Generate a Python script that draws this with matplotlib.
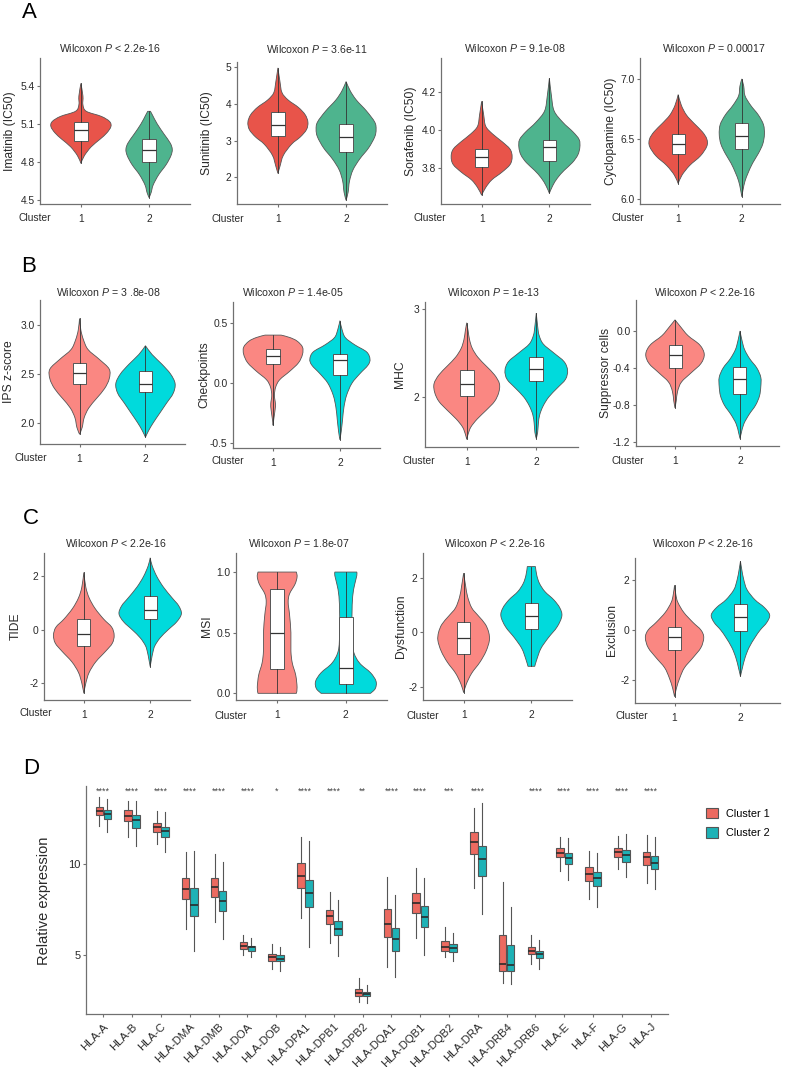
import numpy as np
import matplotlib
matplotlib.use("Agg")
import matplotlib.pyplot as plt
from matplotlib.path import Path
from matplotlib.patches import PathPatch, Patch

plt.rcParams['font.family'] = ['Liberation Sans', 'DejaVu Sans']
plt.rcParams['mathtext.fontset'] = 'custom'
plt.rcParams['mathtext.it'] = 'Liberation Sans:italic'
plt.rcParams['mathtext.rm'] = 'Liberation Sans'
plt.rcParams['axes.unicode_minus'] = False

# ---------------- DATA ----------------
clusters = ["1", "2"]

# Panel A  (violin profiles: y values and half-widths; box: q1, median, q3)
imatinib_c1_y = [4.79, 4.85, 4.92, 4.98, 5.03, 5.08, 5.12, 5.16, 5.20, 5.25, 5.32, 5.42]
imatinib_c1_w = [0, 0.05, 0.15, 0.28, 0.38, 0.44, 0.42, 0.30, 0.08, 0.03, 0.03, 0]
imatinib_c2_y = [4.52, 4.56, 4.62, 4.70, 4.78, 4.85, 4.90, 4.95, 5.02, 5.10, 5.17, 5.20]
imatinib_c2_w = [0, 0.03, 0.06, 0.14, 0.25, 0.32, 0.34, 0.31, 0.22, 0.12, 0.05, 0.02]
imatinib_box = [(4.97, 5.05, 5.115), (4.80, 4.895, 4.98)]

sunitinib_c1_y = [2.11, 2.3, 2.6, 2.9, 3.1, 3.3, 3.5, 3.7, 3.9, 4.1, 4.3, 4.6, 4.97]
sunitinib_c1_w = [0, 0.03, 0.08, 0.2, 0.33, 0.42, 0.44, 0.40, 0.3, 0.15, 0.06, 0.03, 0]
sunitinib_c2_y = [1.38, 1.6, 1.9, 2.2, 2.5, 2.8, 3.1, 3.3, 3.5, 3.8, 4.1, 4.35, 4.6]
sunitinib_c2_w = [0, 0.03, 0.05, 0.1, 0.2, 0.33, 0.42, 0.44, 0.42, 0.3, 0.15, 0.06, 0]
sunitinib_box = [(3.12, 3.43, 3.78), (2.68, 3.10, 3.45)]

sorafenib_c1_y = [3.66, 3.70, 3.74, 3.78, 3.82, 3.86, 3.90, 3.94, 3.98, 4.02, 4.08, 4.15]
sorafenib_c1_w = [0, 0.06, 0.15, 0.30, 0.42, 0.45, 0.42, 0.30, 0.16, 0.06, 0.03, 0]
sorafenib_c2_y = [3.67, 3.71, 3.75, 3.79, 3.83, 3.87, 3.91, 3.95, 3.99, 4.04, 4.10, 4.18, 4.27]
sorafenib_c2_w = [0, 0.05, 0.12, 0.22, 0.34, 0.42, 0.45, 0.44, 0.35, 0.20, 0.07, 0.03, 0]
sorafenib_box = [(3.805, 3.857, 3.902), (3.84, 3.91, 3.95)]

cyclopamine_c1_y = [6.13, 6.20, 6.28, 6.36, 6.44, 6.50, 6.56, 6.63, 6.70, 6.78, 6.87]
cyclopamine_c1_w = [0, 0.06, 0.18, 0.35, 0.45, 0.45, 0.38, 0.25, 0.13, 0.05, 0]
cyclopamine_c2_y = [6.02, 6.08, 6.15, 6.22, 6.30, 6.38, 6.46, 6.54, 6.62, 6.70, 6.78, 6.86, 6.94, 7.0]
cyclopamine_c2_w = [0, 0.02, 0.05, 0.10, 0.17, 0.26, 0.33, 0.355, 0.34, 0.26, 0.14, 0.05, 0.03, 0]
cyclopamine_box = [(6.378, 6.461, 6.544), (6.42, 6.527, 6.63)]

# Panel B
ips_c1_y = [1.88, 1.95, 2.05, 2.15, 2.25, 2.35, 2.45, 2.55, 2.65, 2.75, 2.85, 2.95, 3.07]
ips_c1_w = [0, 0.04, 0.07, 0.14, 0.26, 0.38, 0.45, 0.45, 0.30, 0.13, 0.06, 0.02, 0]
ips_c2_y = [1.85, 1.92, 2.0, 2.1, 2.2, 2.3, 2.4, 2.5, 2.6, 2.7, 2.79]
ips_c2_w = [0, 0.05, 0.12, 0.22, 0.32, 0.42, 0.45, 0.38, 0.25, 0.10, 0]
ips_box = [(2.395, 2.513, 2.616), (2.31, 2.40, 2.53)]

checkpoints_c1_y = [-0.35, -0.30, -0.22, -0.17, -0.10, -0.03, 0.03, 0.10, 0.17, 0.24, 0.30, 0.35, 0.38, 0.40]
checkpoints_c1_w = [0, 0.01, 0.03, 0.035, 0.02, 0.04, 0.10, 0.25, 0.38, 0.44, 0.44, 0.36, 0.25, 0.12]
checkpoints_c2_y = [-0.47, -0.40, -0.30, -0.20, -0.10, 0.0, 0.08, 0.15, 0.20, 0.26, 0.32, 0.38, 0.45, 0.52]
checkpoints_c2_w = [0, 0.02, 0.04, 0.06, 0.10, 0.18, 0.30, 0.42, 0.45, 0.40, 0.22, 0.08, 0.03, 0]
checkpoints_box = [(0.16, 0.23, 0.283), (0.072, 0.19, 0.24)]

mhc_c1_y = [1.52, 1.58, 1.66, 1.75, 1.85, 1.95, 2.05, 2.15, 2.25, 2.35, 2.45, 2.55, 2.65, 2.75, 2.84]
mhc_c1_w = [0, 0.02, 0.06, 0.15, 0.28, 0.40, 0.46, 0.47, 0.40, 0.28, 0.16, 0.08, 0.04, 0.02, 0]
mhc_c2_y = [1.53, 1.6, 1.7, 1.8, 1.9, 2.0, 2.1, 2.2, 2.3, 2.4, 2.5, 2.6, 2.7, 2.8, 2.95]
mhc_c2_w = [0, 0.02, 0.03, 0.05, 0.10, 0.18, 0.30, 0.42, 0.45, 0.40, 0.25, 0.10, 0.04, 0.02, 0]
mhc_box = [(2.01, 2.15, 2.31), (2.18, 2.32, 2.45)]

suppressor_c1_y = [-0.83, -0.75, -0.65, -0.55, -0.45, -0.35, -0.25, -0.15, -0.05, 0.05, 0.12]
suppressor_c1_w = [0, 0.02, 0.04, 0.10, 0.25, 0.40, 0.45, 0.38, 0.20, 0.08, 0]
suppressor_c2_y = [-1.16, -1.1, -1.0, -0.9, -0.8, -0.7, -0.6, -0.5, -0.4, -0.3, -0.2, -0.1, 0.0]
suppressor_c2_w = [0, 0.02, 0.06, 0.14, 0.24, 0.30, 0.32, 0.32, 0.26, 0.15, 0.07, 0.03, 0]
suppressor_box = [(-0.396, -0.259, -0.154), (-0.682, -0.52, -0.385)]

# Panel C
tide_c1_y = [-2.38, -2.0, -1.6, -1.2, -0.8, -0.5, -0.2, 0.1, 0.4, 0.8, 1.2, 1.6, 2.15]
tide_c1_w = [0, 0.03, 0.08, 0.18, 0.33, 0.43, 0.457, 0.42, 0.30, 0.17, 0.08, 0.03, 0]
tide_c2_y = [-1.38, -1.1, -0.85, -0.6, -0.3, 0.0, 0.3, 0.6, 0.9, 1.2, 1.6, 2.0, 2.4, 2.7]
tide_c2_w = [0, 0.02, 0.04, 0.07, 0.15, 0.27, 0.40, 0.47, 0.43, 0.33, 0.20, 0.10, 0.03, 0]
tide_box = [(-0.60, -0.16, 0.40), (0.40, 0.725, 1.275)]

msi_c1_y = [0.0, 0.05, 0.15, 0.25, 0.35, 0.5, 0.65, 0.75, 0.82, 0.9, 0.96, 1.0]
msi_c1_w = [0.28, 0.29, 0.27, 0.22, 0.20, 0.20, 0.18, 0.16, 0.18, 0.26, 0.29, 0.28]
msi_c2_y = [0.0, 0.04, 0.10, 0.17, 0.25, 0.35, 0.5, 0.65, 0.8, 0.9, 0.97, 1.0]
msi_c2_w = [0.36, 0.43, 0.44, 0.36, 0.20, 0.11, 0.09, 0.09, 0.10, 0.13, 0.16, 0.16]
msi_box = [(0.20, 0.494, 0.859), (0.077, 0.207, 0.627)]

dysfunction_c1_y = [-2.22, -1.9, -1.5, -1.1, -0.7, -0.3, 0.0, 0.3, 0.6, 0.9, 1.3, 1.7, 2.18]
dysfunction_c1_w = [0, 0.04, 0.12, 0.24, 0.33, 0.38, 0.37, 0.32, 0.22, 0.12, 0.06, 0.03, 0]
dysfunction_c2_y = [-1.25, -1.0, -0.6, -0.2, 0.2, 0.6, 0.9, 1.2, 1.5, 1.8, 2.1, 2.42]
dysfunction_c2_w = [0.05, 0.08, 0.14, 0.25, 0.38, 0.45, 0.42, 0.33, 0.20, 0.12, 0.08, 0.06]
dysfunction_box = [(-0.80, -0.21, 0.37), (0.14, 0.59, 1.08)]

exclusion_c1_y = [-2.65, -2.3, -1.9, -1.5, -1.1, -0.7, -0.3, 0.0, 0.3, 0.7, 1.1, 1.4, 1.78]
exclusion_c1_w = [0, 0.03, 0.08, 0.15, 0.28, 0.40, 0.443, 0.40, 0.28, 0.14, 0.05, 0.02, 0]
exclusion_c2_y = [-1.84, -1.5, -1.1, -0.7, -0.3, 0.0, 0.3, 0.6, 0.9, 1.2, 1.6, 2.0, 2.4, 2.73]
exclusion_c2_w = [0, 0.03, 0.07, 0.13, 0.22, 0.30, 0.40, 0.443, 0.36, 0.22, 0.10, 0.05, 0.02, 0]
exclusion_box = [(-0.79, -0.29, 0.13), (-0.03, 0.53, 1.03)]

# Panel D
hla_genes = ["HLA-A", "HLA-B", "HLA-C", "HLA-DMA", "HLA-DMB", "HLA-DOA", "HLA-DOB",
             "HLA-DPA1", "HLA-DPB1", "HLA-DPB2", "HLA-DQA1", "HLA-DQB1", "HLA-DQB2",
             "HLA-DRA", "HLA-DRB4", "HLA-DRB6", "HLA-E", "HLA-F", "HLA-G", "HLA-J"]
sig_labels = ["****", "****", "****", "****", "****", "****", "*", "****", "****", "**",
              "****", "****", "***", "****", "", "****", "****", "****", "****", "****"]
c1_low = [12.12, 11.52, 11.12, 6.45, 6.81, 4.98, 4.25, 7.03, 5.66, 2.42,
          4.34, 5.93, 4.87, 8.68, 3.49, 4.52, 9.65, 8.09, 9.74, 8.96]
c1_q1 = [12.71, 12.36, 11.79, 8.08, 8.22, 5.33, 4.69, 8.68, 6.72, 2.73,
         5.99, 7.31, 5.25, 10.55, 4.10, 5.05, 10.38, 9.08, 10.42, 9.96]
c1_med = [12.95, 12.67, 12.05, 8.64, 8.74, 5.51, 4.87, 9.37, 7.16, 2.91,
          6.70, 7.86, 5.47, 11.21, 4.52, 5.24, 10.60, 9.45, 10.69, 10.42]
c1_q3 = [13.13, 12.98, 12.25, 9.23, 9.23, 5.71, 5.05, 10.05, 7.49, 3.15,
         7.53, 8.41, 5.80, 11.79, 6.12, 5.47, 10.88, 9.84, 10.91, 10.69]
c1_high = [13.71, 13.46, 12.91, 10.69, 10.58, 6.12, 5.62, 11.52, 8.49, 3.74,
           9.32, 9.78, 6.54, 13.08, 9.01, 6.08, 11.52, 10.73, 11.55, 11.61]
c2_low = [11.77, 11.00, 10.66, 5.25, 5.88, 4.89, 4.15, 5.47, 4.96, 2.36,
          3.79, 4.98, 4.65, 7.25, 3.42, 4.23, 9.14, 7.67, 9.29, 8.63]
c2_q1 = [12.49, 12.01, 11.50, 7.16, 7.40, 5.22, 4.65, 7.67, 6.08, 2.73,
         5.24, 6.52, 5.18, 9.37, 4.10, 4.84, 10.02, 8.82, 10.14, 9.73]
c2_med = [12.76, 12.43, 11.81, 7.75, 7.95, 5.42, 4.80, 8.44, 6.45, 2.86,
          5.90, 7.09, 5.38, 10.29, 4.47, 5.05, 10.33, 9.26, 10.51, 10.09]
c2_q3 = [12.98, 12.73, 12.07, 8.68, 8.53, 5.51, 4.98, 9.14, 6.85, 2.97,
         6.48, 7.71, 5.62, 11.00, 5.57, 5.24, 10.64, 9.59, 10.79, 10.46]
c2_high = [13.59, 13.46, 12.86, 10.75, 10.14, 5.93, 5.44, 11.28, 8.04, 3.37,
           8.31, 9.23, 6.24, 13.35, 7.64, 5.84, 11.43, 10.64, 11.66, 11.52]

# ---------------- STYLE / LAYOUT ----------------
W, H = 790, 1067
A_COLORS = ("#E8544A", "#4EB48E")
BC_COLORS = ("#FA8782", "#00DADC")
D_COLORS = ("#EC6A60", "#1EB2B6")
AXIS_COL = "#707070"
TXT_COL = "#2a2a2a"

fig = plt.figure(figsize=(W / 100, H / 100), dpi=100)


def px_axes(l, t, r, b):
    return fig.add_axes([l / W, 1 - b / H, (r - l) / W, (b - t) / H])


def ftext(x, y, s, **kw):
    fig.text(x / W, 1 - y / H, s, **kw)


def cr_bezier(pts):
    pts = np.asarray(pts, float)
    n = len(pts)
    out = []
    for i in range(n - 1):
        p0 = pts[i - 1] if i > 0 else pts[i]
        p1, p2 = pts[i], pts[i + 1]
        p3 = pts[i + 2] if i + 2 < n else pts[i + 1]
        out += [p1 + (p2 - p0) / 6.0, p2 - (p3 - p1) / 6.0, p2]
    return out


def draw_violin(ax, c, ys, ws, color):
    right = [(c + w, y) for y, w in zip(ys, ws)]
    left = [(c - w, y) for y, w in zip(ys[::-1], ws[::-1])]
    verts = [right[0]]
    codes = [Path.MOVETO]
    v = cr_bezier(right)
    verts += v
    codes += [Path.CURVE4] * len(v)
    verts.append(left[0])
    codes.append(Path.LINETO)
    v = cr_bezier(left)
    verts += v
    codes += [Path.CURVE4] * len(v)
    verts.append(right[0])
    codes.append(Path.CLOSEPOLY)
    ax.add_patch(PathPatch(Path(verts, codes), facecolor=color,
                           edgecolor="#555555", lw=0.6, zorder=2))


def style_axes(ax):
    for s in ("top", "right"):
        ax.spines[s].set_visible(False)
    for s in ("left", "bottom"):
        ax.spines[s].set_color(AXIS_COL)
        ax.spines[s].set_linewidth(0.9)
    ax.tick_params(colors=AXIS_COL, length=2.5, width=0.8, labelcolor=TXT_COL,
                   labelsize=7.4, pad=1.5)
    ax.tick_params(axis="x", pad=4.5)


violin_panels = [
    dict(prof=[(imatinib_c1_y, imatinib_c1_w), (imatinib_c2_y, imatinib_c2_w)], box=imatinib_box,
         rect=(40, 58, 190, 204), ylim=(4.47, 5.62), yt=[4.5, 4.8, 5.1, 5.4],
         ytl=["4.5", "4.8", "5.1", "5.4"], ylabel="Imatinib (IC50)", ylx=10,
         title="Wilcoxon $P$ < 2.2e-16", txy=(109.7, 48), cxy=(34.5, 218), col=A_COLORS),
    dict(prof=[(sunitinib_c1_y, sunitinib_c1_w), (sunitinib_c2_y, sunitinib_c2_w)], box=sunitinib_box,
         rect=(237, 62, 387, 204), ylim=(1.28, 5.13), yt=[2, 3, 4, 5],
         ytl=["2", "3", "4", "5"], ylabel="Sunitinib (IC50)", ylx=206.7,
         title="Wilcoxon $P$ = 3.6e-11", txy=(317.2, 49), cxy=(227.5, 219), col=A_COLORS),
    dict(prof=[(sorafenib_c1_y, sorafenib_c1_w), (sorafenib_c2_y, sorafenib_c2_w)], box=sorafenib_box,
         rect=(441, 58, 590, 204), ylim=(3.614, 4.376), yt=[3.8, 4.0, 4.2],
         ytl=["3.8", "4.0", "4.2"], ylabel="Sorafenib (IC50)", ylx=411.3,
         title="Wilcoxon $P$ = 9.1e-08", txy=(515, 48), cxy=(429.7, 218), col=A_COLORS),
    dict(prof=[(cyclopamine_c1_y, cyclopamine_c1_w), (cyclopamine_c2_y, cyclopamine_c2_w)], box=cyclopamine_box,
         rect=(640, 58, 780, 204), ylim=(5.96, 7.174), yt=[6.0, 6.5, 7.0],
         ytl=["6.0", "6.5", "7.0"], ylabel="Cyclopamine (IC50)", ylx=611,
         title="Wilcoxon $P$ = 0.00017", txy=(713.5, 48), cxy=(627.5, 218), col=A_COLORS),
    dict(prof=[(ips_c1_y, ips_c1_w), (ips_c2_y, ips_c2_w)], box=ips_box,
         rect=(40, 300, 185, 444), ylim=(1.78, 3.26), yt=[2.0, 2.5, 3.0],
         ytl=["2.0", "2.5", "3.0"], ylabel="IPS z-score", ylx=9,
         title="Wilcoxon $P$ = 3 .8e-08", txy=(108.3, 291.7), cxy=(30.8, 457.7), col=BC_COLORS),
    dict(prof=[(checkpoints_c1_y, checkpoints_c1_w), (checkpoints_c2_y, checkpoints_c2_w)], box=checkpoints_box,
         rect=(233, 302, 380, 448), ylim=(-0.538, 0.675), yt=[-0.5, 0.0, 0.5],
         ytl=["-0.5", "0.0", "0.5"], ylabel="Checkpoints", ylx=204.3,
         title="Wilcoxon $P$ = 1.4e-05", txy=(293.3, 291.7), cxy=(227.5, 461), col=BC_COLORS),
    dict(prof=[(mhc_c1_y, mhc_c1_w), (mhc_c2_y, mhc_c2_w)], box=mhc_box,
         rect=(425, 302, 578, 447), ylim=(1.434, 3.075), yt=[2, 3],
         ytl=["2", "3"], ylabel="MHC", ylx=400,
         title="Wilcoxon $P$ = 1e-13", txy=(493.7, 291.7), cxy=(419, 461), col=BC_COLORS),
    dict(prof=[(suppressor_c1_y, suppressor_c1_w), (suppressor_c2_y, suppressor_c2_w)], box=suppressor_box,
         rect=(636, 300, 779, 446), ylim=(-1.24, 0.334), yt=[-1.2, -0.8, -0.4, 0.0],
         ytl=["-1.2", "-0.8", "-0.4", "0.0"], ylabel="Suppressor cells", ylx=606,
         title="Wilcoxon $P$ < 2.2e-16", txy=(705, 291.7), cxy=(628, 461), col=BC_COLORS),
    dict(prof=[(tide_c1_y, tide_c1_w), (tide_c2_y, tide_c2_w)], box=tide_box,
         rect=(44, 553, 190, 700), ylim=(-2.63, 2.88), yt=[-2, 0, 2],
         ytl=["-2", "0", "2"], ylabel="TIDE", ylx=15.3,
         title="Wilcoxon $P$ < 2.2e-16", txy=(115.7, 542.7), cxy=(35.5, 713.3), col=BC_COLORS),
    dict(prof=[(msi_c1_y, msi_c1_w), (msi_c2_y, msi_c2_w)], box=msi_box,
         rect=(236, 553, 387, 700), ylim=(-0.055, 1.157), yt=[0.0, 0.5, 1.0],
         ytl=["0.0", "0.5", "1.0"], ylabel="MSI", ylx=206.7,
         title="Wilcoxon $P$ = 1.8e-07", txy=(298.7, 542.7), cxy=(231, 716), col=BC_COLORS),
    dict(prof=[(dysfunction_c1_y, dysfunction_c1_w), (dysfunction_c2_y, dysfunction_c2_w)], box=dysfunction_box,
         rect=(423, 553, 572, 700), ylim=(-2.49, 2.92), yt=[-2, 0, 2],
         ytl=["-2", "0", "2"], ylabel="Dysfunction", ylx=401.3,
         title="Wilcoxon $P$ < 2.2e-16", txy=(495, 542.7), cxy=(423, 716), col=BC_COLORS),
    dict(prof=[(exclusion_c1_y, exclusion_c1_w), (exclusion_c2_y, exclusion_c2_w)], box=exclusion_box,
         rect=(635, 558, 780, 703), ylim=(-2.9, 2.86), yt=[-2, 0, 2],
         ytl=["-2", "0", "2"], ylabel="Exclusion", ylx=612.5,
         title="Wilcoxon $P$ < 2.2e-16", txy=(702.7, 542.7), cxy=(632, 716), col=BC_COLORS),
]

for p in violin_panels:
    ax = px_axes(*p["rect"])
    style_axes(ax)
    for k in range(2):
        ys, ws = p["prof"][k]
        c = k + 1
        draw_violin(ax, c, list(ys), list(ws), p["col"][k])
        q1, med, q3 = p["box"][k]
        ax.bxp([dict(whislo=ys[0], q1=q1, med=med, q3=q3, whishi=ys[-1], fliers=[])],
               positions=[c], widths=0.2, patch_artist=True, showcaps=False,
               showfliers=False, manage_ticks=False,
               boxprops=dict(facecolor="white", edgecolor="#555555", lw=0.7),
               medianprops=dict(color="#333333", lw=0.9),
               whiskerprops=dict(color="#333333", lw=0.6), zorder=3)
    ax.set_xlim(0.4, 2.6)
    ax.set_ylim(*p["ylim"])
    ax.set_xticks([1, 2])
    ax.set_xticklabels(clusters)
    ax.set_yticks(p["yt"])
    ax.set_yticklabels(p["ytl"])
    r = p["rect"]
    ftext(p["ylx"], (r[1] + r[3]) / 2, p["ylabel"], rotation=90, ha="center",
          va="center", fontsize=8.7, color=TXT_COL)
    ftext(p["txy"][0], p["txy"][1], p["title"], ha="center", va="center",
          fontsize=7.6, color=TXT_COL)
    ftext(p["cxy"][0], p["cxy"][1], "Cluster", ha="center", va="center",
          fontsize=7.4, color=TXT_COL)

# Panel letters
for lab, (x, y) in zip("ABCD", [(29.5, 12), (29, 266.5), (31, 518.5), (31, 768)]):
    ftext(x, y, lab, ha="center", va="center", fontsize=16, color="black")

# ---------------- Panel D ----------------
axd = px_axes(86, 786, 668, 1014)
style_axes(axd)
pos = np.arange(len(hla_genes))
for k, (lo, q1s, meds, q3s, hi) in enumerate([(c1_low, c1_q1, c1_med, c1_q3, c1_high),
                                              (c2_low, c2_q1, c2_med, c2_q3, c2_high)]):
    stats = [dict(whislo=lo[i], q1=q1s[i], med=meds[i], q3=q3s[i], whishi=hi[i], fliers=[])
             for i in range(len(hla_genes))]
    off = -0.14 if k == 0 else 0.14
    axd.bxp(stats, positions=pos + off, widths=0.26, patch_artist=True, showcaps=False,
            showfliers=False, manage_ticks=False,
            boxprops=dict(facecolor=D_COLORS[k], edgecolor="#555555", lw=0.8),
            medianprops=dict(color="#2b2b2b", lw=1.2),
            whiskerprops=dict(color="#555555", lw=0.8))
for i, s in enumerate(sig_labels):
    if s:
        axd.text(i, 13.99, s, ha="center", va="center", fontsize=6.5, color="#444444")
axd.set_xlim(-0.6, len(hla_genes) - 0.4)
axd.set_ylim(1.76, 14.3)
axd.set_yticks([5, 10])
axd.set_yticklabels(["5", "10"])
axd.set_xticks(pos)
axd.set_xticklabels(hla_genes, rotation=45, ha="right", va="top", rotation_mode="anchor")
axd.tick_params(axis="x", pad=3, labelsize=8.2)
axd.tick_params(axis="y", labelsize=8)
ftext(44, 901, "Relative expression", rotation=90, ha="center", va="center",
      fontsize=10.5, color=TXT_COL)
handles = [Patch(facecolor=D_COLORS[0], edgecolor="#555555", lw=0.8),
           Patch(facecolor=D_COLORS[1], edgecolor="#555555", lw=0.8)]
fig.legend(handles, ["Cluster 1", "Cluster 2"], loc="center left",
           bbox_to_anchor=(706 / W, 1 - 823 / H), frameon=False, fontsize=7.8,
           handlelength=1.1, handleheight=1.1, handletextpad=0.7, labelspacing=0.8,
           borderpad=0, borderaxespad=0)

fig.savefig("out.png", dpi=100)
